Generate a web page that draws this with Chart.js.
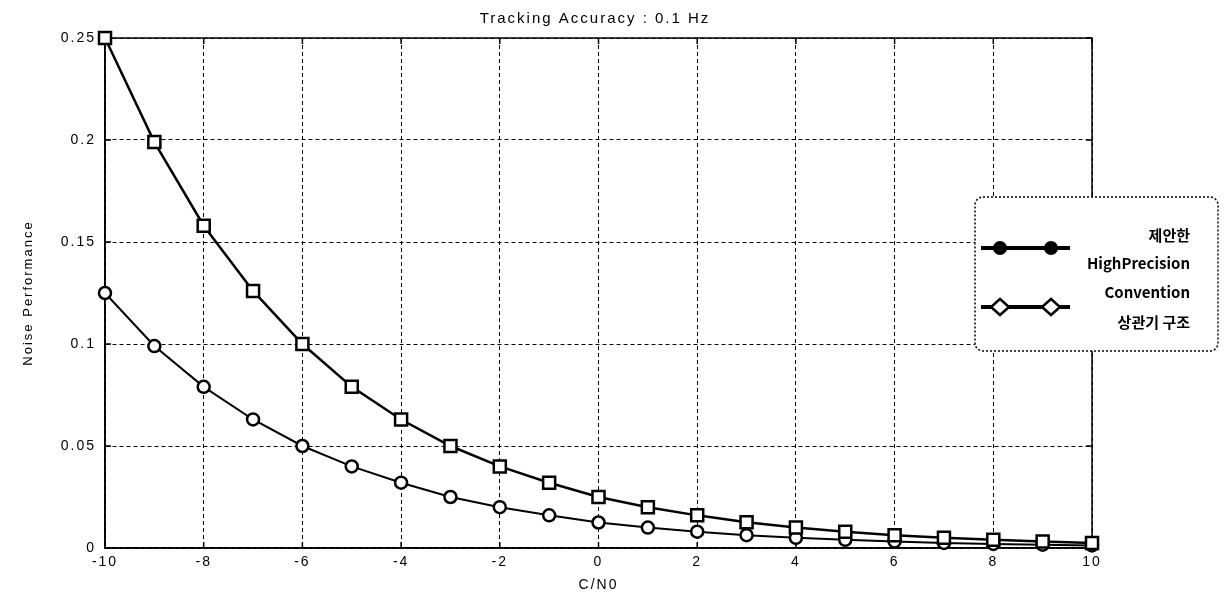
<!DOCTYPE html>
<html>
<head>
<meta charset="utf-8">
<script src="https://cdn.jsdelivr.net/npm/chart.js@4"></script>
<style>
  body { margin: 0; background: #fff; }
  #wrap { width: 1228px; height: 603px; }
</style>
</head>
<body>
<div id="wrap"><canvas id="noiseChart"></canvas></div>
<script>
// C/N0 values on the x axis
const cnoValues = [-10, -9, -8, -7, -6, -5, -4, -3, -2, -1, 0, 1, 2, 3, 4, 5, 6, 7, 8, 9, 10]
// square markers (upper curve)
const squareSeries = [0.25, 0.199, 0.158, 0.126, 0.1, 0.079, 0.063, 0.05, 0.04, 0.032, 0.025,
  0.02, 0.016, 0.0126, 0.01, 0.008, 0.0063, 0.005, 0.004, 0.0032, 0.0025]
// circle markers (lower curve)
const circleSeries = [0.125, 0.099, 0.079, 0.063, 0.05, 0.04, 0.032, 0.025, 0.02, 0.016, 0.0125,
  0.01, 0.008, 0.0063, 0.005, 0.004, 0.0032, 0.0025, 0.002, 0.0016, 0.00125]
const yTickLabels = ['0', '0.05', '0.1', '0.15', '0.2', '0.25']
// legend text, two lines per entry
const legendLabels = [['제안한', 'HighPrecision'], ['Convention', '상관기 구조']]

const toPoints = (ys) => cnoValues.map((x, i) => ({ x: x, y: ys[i] }))

// matlab-ish look: wide letter spacing everywhere
const spacingPlugin = {
  id: 'spacing',
  beforeDraw(chart) {
    chart.ctx.letterSpacing = '2px'
  }
}

// full box around the plot area + inward tick marks
const boxPlugin = {
  id: 'box',
  beforeDatasetsDraw(chart) {
    const { ctx, chartArea: a, scales } = chart
    ctx.save()
    ctx.strokeStyle = '#000'
    ctx.lineWidth = 1.5
    ctx.setLineDash([])
    ctx.strokeRect(a.left, a.top, a.right - a.left, a.bottom - a.top)
    ctx.beginPath()
    scales.x.ticks.forEach(t => {
      const px = scales.x.getPixelForValue(t.value)
      ctx.moveTo(px, a.bottom); ctx.lineTo(px, a.bottom - 6)
      ctx.moveTo(px, a.top); ctx.lineTo(px, a.top + 6)
    })
    scales.y.ticks.forEach(t => {
      const py = scales.y.getPixelForValue(t.value)
      ctx.moveTo(a.left, py); ctx.lineTo(a.left + 6, py)
      ctx.moveTo(a.right, py); ctx.lineTo(a.right - 6, py)
    })
    ctx.stroke()
    ctx.restore()
  }
}

function drawMarker(ctx, style, x, y) {
  ctx.beginPath()
  if (style === 'circle') {
    ctx.arc(x, y, 7, 0, Math.PI * 2)
    ctx.fill()
  } else {
    ctx.moveTo(x, y - 8)
    ctx.lineTo(x + 9, y)
    ctx.lineTo(x, y + 8)
    ctx.lineTo(x - 9, y)
    ctx.closePath()
    ctx.fillStyle = '#fff'
    ctx.fill()
    ctx.stroke()
  }
}

// legend box that sits over the right edge of the plot
const legendPlugin = {
  id: 'boxLegend',
  afterDraw(chart) {
    const ctx = chart.ctx
    ctx.save()
    ctx.letterSpacing = '0px'
    ctx.fillStyle = '#fff'
    ctx.strokeStyle = '#000'
    ctx.lineWidth = 1.5
    ctx.setLineDash([2, 2])
    ctx.beginPath()
    ctx.roundRect(975, 197, 243, 154, 8)
    ctx.fill()
    ctx.stroke()
    ctx.setLineDash([])

    const rows = [
      { y: 248, style: 'circle', textY: [235, 263] },
      { y: 307, style: 'diamond', textY: [292, 322] }
    ]
    rows.forEach((r, i) => {
      ctx.strokeStyle = '#000'
      ctx.fillStyle = '#000'
      ctx.lineWidth = 4
      ctx.beginPath()
      ctx.moveTo(981, r.y)
      ctx.lineTo(1070, r.y)
      ctx.stroke()
      ctx.lineWidth = 2.5
      drawMarker(ctx, r.style, 1000, r.y)
      drawMarker(ctx, r.style, 1051, r.y)
      ctx.fillStyle = '#000'
      ctx.font = 'bold 15px "Liberation Sans Narrow", "Noto Sans CJK KR", sans-serif'
      ctx.textAlign = 'right'
      ctx.textBaseline = 'middle'
      legendLabels[i].forEach((t, j) => ctx.fillText(t, 1190, r.textY[j]))
    })
    ctx.restore()
  }
}

const tickFont = { family: '"Liberation Sans", Arial, sans-serif', size: 14 }

new Chart(document.getElementById('noiseChart'), {
  type: 'line',
  data: {
    datasets: [
      {
        label: legendLabels[0].join(' '),
        data: toPoints(squareSeries),
        clip: false,
        borderColor: '#000',
        borderWidth: 2.5,
        pointStyle: 'rect',
        pointRadius: 8.5,
        pointBorderWidth: 2.5,
        pointBackgroundColor: '#fff',
        pointBorderColor: '#000'
      },
      {
        label: legendLabels[1].join(' '),
        data: toPoints(circleSeries),
        clip: false,
        borderColor: '#000',
        borderWidth: 2,
        pointStyle: 'circle',
        pointRadius: 6,
        pointBorderWidth: 2.5,
        pointBackgroundColor: '#fff',
        pointBorderColor: '#000'
      }
    ]
  },
  options: {
    responsive: true,
    maintainAspectRatio: false,
    animation: false,
    layout: { padding: { top: 0, right: 38, left: 0, bottom: 0 } },
    plugins: {
      legend: { display: false },
      tooltip: { enabled: false },
      title: {
        display: true,
        text: 'Tracking Accuracy : 0.1 Hz',
        color: '#000',
        font: { family: '"Liberation Sans", Arial, sans-serif', size: 15, weight: 'normal' },
        padding: { top: 10, bottom: 10 }
      }
    },
    scales: {
      x: {
        type: 'linear',
        min: -10,
        max: 10,
        afterFit: (scale) => { scale.height = 55 },
        ticks: { stepSize: 2, color: '#000', font: tickFont, padding: 6 },
        grid: { color: '#000', lineWidth: 1, drawTicks: false },
        border: { color: '#000', width: 1.5, dash: [4, 3] },
        title: {
          display: true,
          text: 'C/N0',
          color: '#000',
          font: { family: '"Liberation Sans", Arial, sans-serif', size: 14 },
          padding: { top: 0, bottom: 9 }
        }
      },
      y: {
        min: 0,
        max: 0.25,
        afterFit: (scale) => { scale.width = 105 },
        ticks: {
          stepSize: 0.05,
          color: '#000',
          font: tickFont,
          padding: 9,
          callback: (v, i) => yTickLabels[i]
        },
        grid: { color: '#000', lineWidth: 1, drawTicks: false },
        border: { color: '#000', width: 1.5, dash: [4, 3] },
        title: {
          display: true,
          text: 'Noise Performance',
          color: '#000',
          font: { family: '"Liberation Sans", Arial, sans-serif', size: 13 },
          padding: { top: 21, bottom: 0 }
        }
      },
      // empty right-hand axis, only reserves the space right of the plot
      yRight: {
        position: 'right',
        display: true,
        afterFit: (scale) => { scale.width = 98 },
        ticks: { display: false },
        grid: { display: false, drawTicks: false },
        border: { display: false }
      }
    }
  },
  plugins: [spacingPlugin, boxPlugin, legendPlugin]
})
</script>
</body>
</html>
